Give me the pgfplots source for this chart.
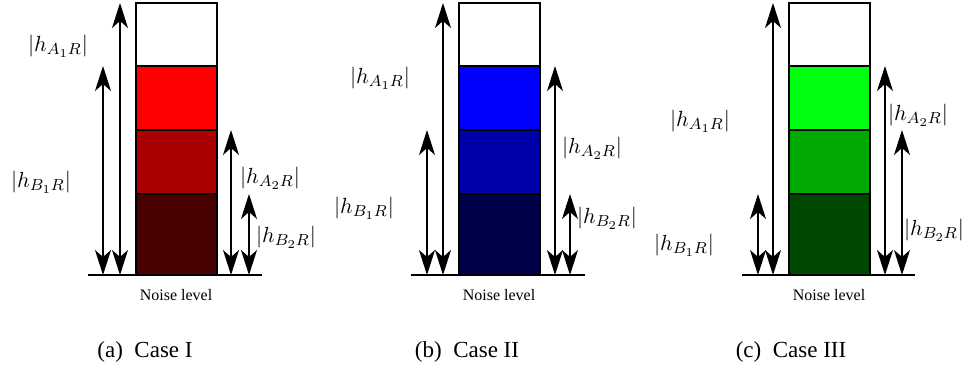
\documentclass[border=0pt]{standalone}
\usepackage{fontspec}
\setmainfont{Liberation Serif}
\usepackage{pgfplots}
\pgfplotsset{compat=1.18}
\usetikzlibrary{arrows.meta}
\DeclareMathSizes{10.5}{10.5}{8.5}{6.5}
\definecolor{rA1}{HTML}{FF0000}
\definecolor{rA2}{HTML}{AA0000}
\definecolor{rA3}{HTML}{480000}
\definecolor{bA1}{HTML}{0000FF}
\definecolor{bA2}{HTML}{0000AA}
\definecolor{bA3}{HTML}{000048}
\definecolor{gA1}{HTML}{00FF11}
\definecolor{gA2}{HTML}{00AA00}
\definecolor{gA3}{HTML}{004800}
\tikzset{
  dbl/.style={line width=0.65pt,{Stealth[length=12.5pt,width=8pt,inset=3.5pt]}-{Stealth[length=12.5pt,width=8pt,inset=3.5pt]}},
  seg/.style={ybar, bar width=81, bar shift=0pt, draw=black, line width=0.7pt},
  lab/.style={font=\fontsize{10.5}{12}\selectfont, inner sep=0pt},
  nl/.style={font=\fontsize{8}{9}\selectfont},
  capt/.style={font=\fontsize{11.5}{13}\selectfont},
}
\newcommand{\hl}[2]{$|h_{#1_#2R}|$}
\begin{document}
\begin{tikzpicture}
\begin{axis}[
  scale only axis, width=485pt, height=182.5pt,
  xmin=0, xmax=970, ymin=-90, ymax=275,
  hide axis, clip=false,
]
% ---- (a) Case I ----
\addplot[seg, fill=white] coordinates {(176.5,272)};
\addplot[seg, fill=rA1] coordinates {(176.5,209)};
\addplot[seg, fill=rA2] coordinates {(176.5,145)};
\addplot[seg, fill=rA3] coordinates {(176.5,81)};
\addplot[line width=0.75pt] coordinates {(88,0) (262,0)};
\addplot[dbl] coordinates {(103,0) (103,209)};
\addplot[dbl] coordinates {(120,0) (120,272)};
\addplot[dbl] coordinates {(231,0) (231,145)};
\addplot[dbl] coordinates {(249,0) (249,81)};
\node[lab] at (axis cs:58,229) {\hl{A}{1}};
\node[lab] at (axis cs:41,93) {\hl{B}{1}};
\node[lab] at (axis cs:270,97) {\hl{A}{2}};
\node[lab] at (axis cs:286,38) {\hl{B}{2}};
\node[nl] at (axis cs:176,-20) {Noise level};
\node[capt] at (axis cs:145,-77) {(a)\enspace Case I};
% ---- (b) Case II ----
\addplot[seg, fill=white] coordinates {(499.5,272)};
\addplot[seg, fill=bA1] coordinates {(499.5,209)};
\addplot[seg, fill=bA2] coordinates {(499.5,145)};
\addplot[seg, fill=bA3] coordinates {(499.5,81)};
\addplot[line width=0.75pt] coordinates {(411,0) (585,0)};
\addplot[dbl] coordinates {(427,0) (427,145)};
\addplot[dbl] coordinates {(443,0) (443,272)};
\addplot[dbl] coordinates {(555,0) (555,209)};
\addplot[dbl] coordinates {(570,0) (570,81)};
\node[lab] at (axis cs:380,197) {\hl{A}{1}};
\node[lab] at (axis cs:364,67) {\hl{B}{1}};
\node[lab] at (axis cs:592,127) {\hl{A}{2}};
\node[lab] at (axis cs:607,57) {\hl{B}{2}};
\node[nl] at (axis cs:499,-20) {Noise level};
\node[capt] at (axis cs:467,-77) {(b)\enspace Case II};
% ---- (c) Case III ----
\addplot[seg, fill=white] coordinates {(829.5,272)};
\addplot[seg, fill=gA1] coordinates {(829.5,209)};
\addplot[seg, fill=gA2] coordinates {(829.5,145)};
\addplot[seg, fill=gA3] coordinates {(829.5,81)};
\addplot[line width=0.75pt] coordinates {(742,0) (915,0)};
\addplot[dbl] coordinates {(758,0) (758,81)};
\addplot[dbl] coordinates {(773,0) (773,272)};
\addplot[dbl] coordinates {(885,0) (885,209)};
\addplot[dbl] coordinates {(902,0) (902,145)};
\node[lab] at (axis cs:700,154) {\hl{A}{1}};
\node[lab] at (axis cs:684,30) {\hl{B}{1}};
\node[lab] at (axis cs:918,160) {\hl{A}{2}};
\node[lab] at (axis cs:934,45) {\hl{B}{2}};
\node[nl] at (axis cs:829,-20) {Noise level};
\node[capt] at (axis cs:791,-77) {(c)\enspace Case III};
\path (axis cs:0,-90) (axis cs:970,275);
\end{axis}
\end{tikzpicture}
\end{document}
